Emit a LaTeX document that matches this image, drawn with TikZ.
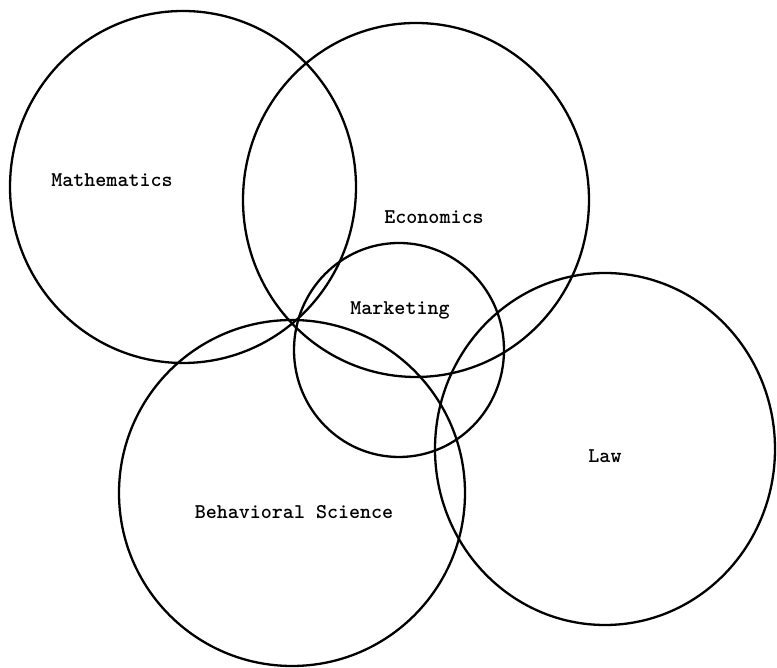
\documentclass[tikz,border=0pt]{standalone}
\usepackage{fontspec}
\begin{document}
\begin{tikzpicture}[x=1pt,y=1pt,
  ring/.style={draw=black,line width=2.3pt},
  lbl/.style={font=\fontsize{21}{21}\selectfont\ttfamily\bfseries,anchor=base,inner sep=0pt}]
\useasboundingbox (0,0) rectangle (777,668);
\fill[white] (0,0) rectangle (777,668);
\draw[ring] (183,481) ellipse [x radius=173,y radius=176];
\draw[ring] (416,468) ellipse [x radius=173,y radius=177];
\draw[ring] (399,318) ellipse [x radius=105,y radius=107];
\draw[ring] (605,219) ellipse [x radius=170,y radius=176];
\draw[ring] (292,175) ellipse [x radius=173,y radius=173];
\node[lbl] (math) at (112,481) {Mathematics};
\node[lbl] (econ) at (434,444) {Economics};
\node[lbl] (mkt) at (400,353) {Marketing};
\node[lbl] (law) at (605,205) {Law};
\node[lbl] (beh) at (294,149) {Behavioral Science};
\end{tikzpicture}
\end{document}
